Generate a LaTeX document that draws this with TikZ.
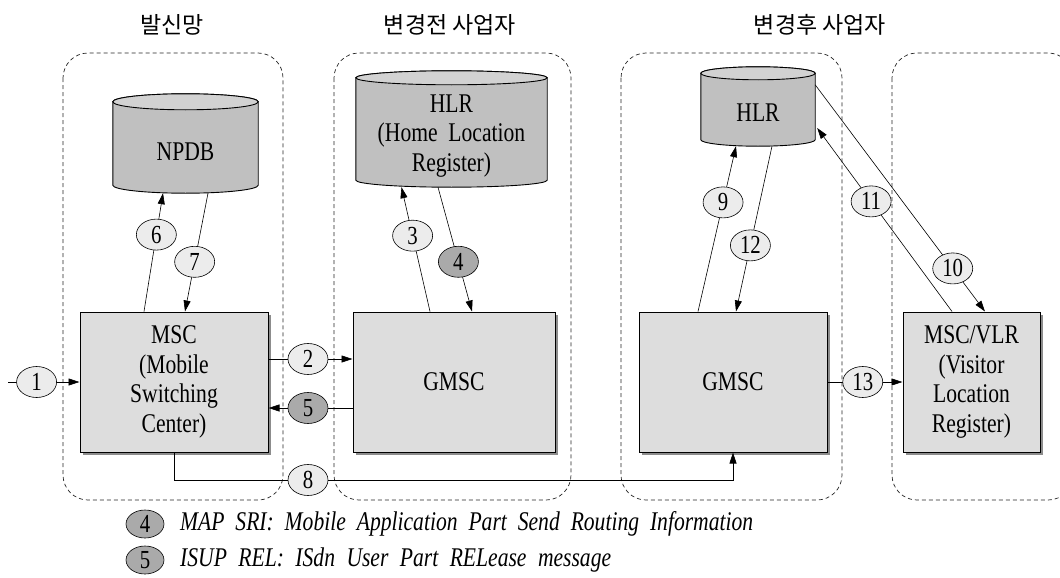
\documentclass[tikz,border=0pt]{standalone}
\usepackage{fontspec}
\setmainfont{Liberation Serif}[FakeStretch=0.8]
\newfontfamily\krfont{Noto Sans CJK KR}
\usetikzlibrary{shapes.geometric,arrows.meta,calc,shadows,backgrounds}
\definecolor{boxgray}{RGB}{221,221,221}
\definecolor{cylbody}{RGB}{192,192,192}
\definecolor{cyltop}{RGB}{210,210,210}
\definecolor{lablight}{RGB}{236,236,236}
\definecolor{labdark}{RGB}{170,170,170}
\newcommand\boxfont{\fontsize{27}{29.5}\selectfont}
\newcommand\labfont{\fontsize{26}{26}\selectfont}
\newcommand\legfont{\fontsize{27}{27}\selectfont\itshape}
\newcommand\titlefont{\krfont\fontsize{23}{23}\selectfont}
\newcommand\drawcyl[2]{%
 \draw[cylline, fill=cylbody] let \p1=(#1.north west), \p2=(#1.south east) in
   (\x1,{\y1+#2pt}) -- (\x1,{\y2+#2pt})
   arc[start angle=180,end angle=360,x radius={(\x2-\x1)/2},y radius=#2pt]
   -- (\x2,{\y1+#2pt})
   arc[start angle=0,end angle=180,x radius={(\x2-\x1)/2},y radius=#2pt] -- cycle;
 \draw[cylline, fill=cyltop] let \p1=(#1.north west), \p2=(#1.north east) in
   ({(\x1+\x2)/2},{\y1+#2pt}) ellipse[x radius={(\x2-\x1)/2},y radius=#2pt];
}
\begin{document}
\begin{tikzpicture}[x=1pt,y=-1pt,
  every node/.style={inner sep=0pt},
  zone/.style={draw=black!85, dash pattern=on 4pt off 3pt, line width=0.7pt, rounded corners=25pt},
  box/.style={draw, line width=1pt, fill=boxgray, drop shadow={shadow xshift=3pt,shadow yshift=-3pt,fill=black!45,opacity=1}, font=\boxfont, align=center, minimum height=140pt},
  cyl/.style={font=\boxfont, align=center},
  cylline/.style={line width=0.9pt},
  lab/.style={ellipse, draw, line width=0.6pt, fill=lablight, minimum width=40pt, minimum height=31pt, font=\labfont},
  labdark/.style={lab, fill=labdark},
  conn/.style={line width=0.6pt},
  arr/.style={conn, -{Triangle[length=11pt,width=7pt]}},
  title/.style={font=\titlefont}
]
\useasboundingbox (0,0) rectangle (1060,578);

% zones
\draw[zone] (63,53) rectangle (283,500);
\draw[zone] (334,53) rectangle (571,500);
\draw[zone] (621,53) rectangle (842,500);
\draw[zone] (892,53) rectangle (1073,500);

% titles
\node[title] (t1) at (172,25) {발신망};
\node[title] (t2) at (450,25) {변경전 사업자};
\node[title] (t3) at (820,25) {변경후 사업자};

% cylinders (text nodes)
\node[cyl, minimum width=145pt, minimum height=83pt] (npdb) at (185.5,151.5) {NPDB};
\node[cyl, minimum width=191pt, minimum height=102pt] (hlr1) at (451.5,136) {HLR\\(Home~~Location\\Register)};
\node[cyl, minimum width=114pt, minimum height=66pt] (hlr2) at (758,113) {HLR};
\begin{pgfonlayer}{background}
\drawcyl{npdb}{8}
\drawcyl{hlr1}{7}
\drawcyl{hlr2}{6.5}
\end{pgfonlayer}

% boxes
\node[box, minimum width=188pt] (msc) at (174,382) {MSC\\(Mobile\\Switching\\Center)};
\node[box, minimum width=202pt] (gmsc1) at (454,382) {GMSC};
\node[box, minimum width=188pt] (gmsc2) at (733,382) {GMSC};
\node[box, minimum width=137pt] (vlr) at (971.5,382) {MSC/VLR\\(Visitor\\Location\\Register)};

% connectors
\coordinate (in1) at (8,382);
\draw[arr] (in1) -- node[lab, pos=0.4] (n1) {1} (msc.west);
\draw[arr] ($(msc.east)+(0,-23)$) -- node[lab, pos=0.47] (n2) {2} ($(gmsc1.west)+(0,-23)$);
\draw[arr] ($(gmsc1.west)+(0,26)$) -- node[labdark, pos=0.53] (n5) {5} ($(msc.east)+(0,26)$);
\draw[arr] ($(msc.north)+(-30,0)$) -- node[lab, pos=0.65] (n6) {6} ($(npdb.south)+(-22.5,0)$);
\draw[arr] ($(npdb.south)+(22.5,0)$) -- node[lab, pos=0.58] (n7) {7} ($(msc.north)+(11,0)$);
\draw[arr] ($(gmsc1.north)+(-24,0)$) -- node[lab, pos=0.61] (n3) {3} ($(hlr1.south)+(-50,0)$);
\draw[arr] ($(hlr1.south)+(-13.5,0)$) -- node[labdark, pos=0.6] (n4) {4} ($(gmsc1.north)+(18,0)$);
\draw[arr] ($(gmsc2.north)+(-35,0)$) -- node[lab, pos=0.66] (n9) {9} ($(hlr2.south)+(-22,0)$);
\draw[arr] ($(hlr2.south)+(14,0)$) -- node[lab, pos=0.6] (n12) {12} ($(gmsc2.north)+(3,0)$);
\draw[arr] ($(vlr.north)+(-19.5,0)$) -- node[lab, pos=0.6] (n11) {11} ($(hlr2.east)+(2,15)$);
\draw[arr] ($(hlr2.north east)+(0,5)$) -- node[lab, pos=0.81] (n10) {10} ($(vlr.north)+(13.5,0)$);
\draw[arr] (gmsc2.east) -- node[lab, pos=0.47] (n13) {13} (vlr.west);
\draw[arr] (msc.south) -- ++(0,28) coordinate (c8) -| (gmsc2.south);
\node[lab] (n8) at (308,480) {8};

% legend
\node[labdark, minimum width=38pt, minimum height=28pt] (k4) at (145,524) {4};
\node[labdark, minimum width=38pt, minimum height=28pt] (k5) at (145,560) {5};
\node[anchor=west, font=\legfont] (l4) at (180,524) {\makebox[573pt][s]{MAP SRI: Mobile Application Part Send Routing Information}};
\node[anchor=west, font=\legfont] (l5) at (180,560) {\makebox[431pt][s]{ISUP REL: ISdn User Part RELease message}};
\end{tikzpicture}
\end{document}
